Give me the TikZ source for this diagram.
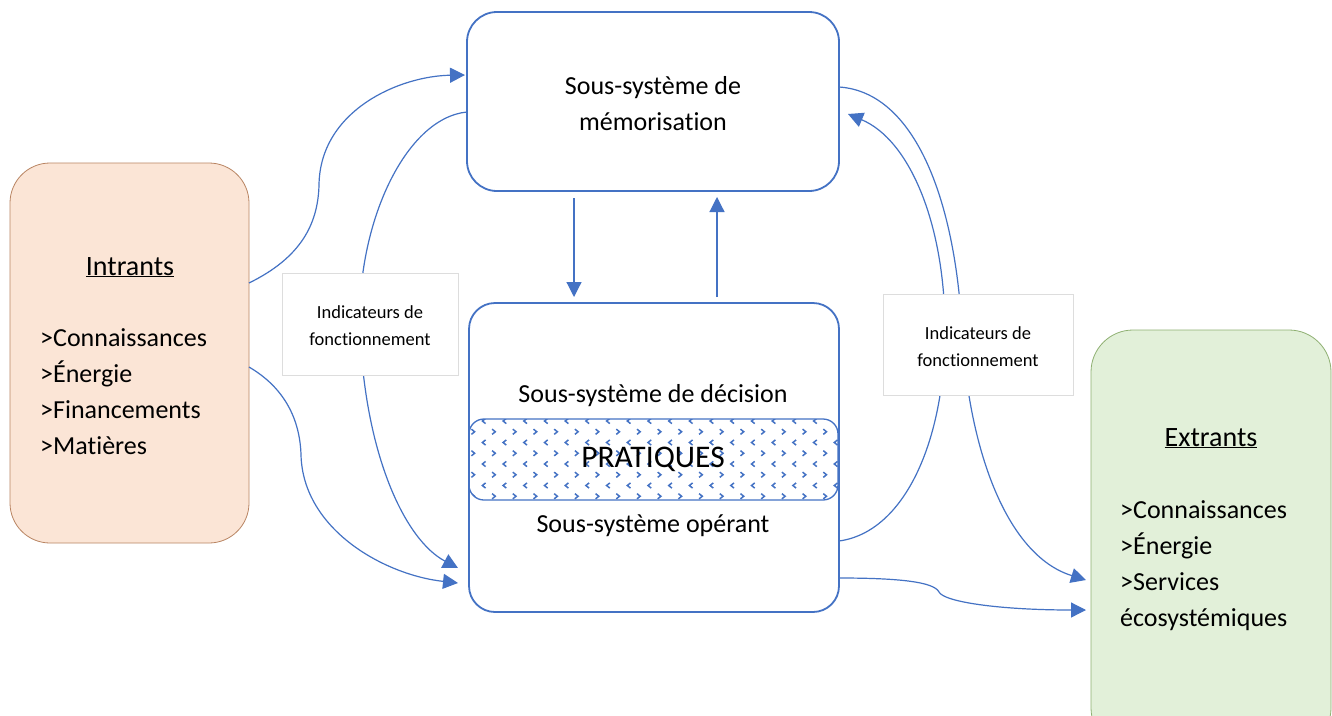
\documentclass[tikz,border=0pt]{standalone}
\usepackage{fontspec}
\setmainfont{Carlito}[Ligatures=NoCommon]
\usetikzlibrary{arrows.meta}
\definecolor{ublue}{HTML}{4472C4}
\definecolor{peach}{HTML}{FBE5D6}
\definecolor{peachline}{HTML}{B98563}
\definecolor{lgreen}{HTML}{E2F0D9}
\definecolor{greenline}{HTML}{8FB072}
\definecolor{lgray}{HTML}{DDDDDD}
\begin{document}
\begin{tikzpicture}[x=1pt,y=-1pt,
  sysbox/.style={draw=ublue, line width=1.8pt, rounded corners=30pt, fill=white, inner sep=0pt, outer sep=0pt},
  conn/.style={draw=ublue, line width=1.2pt},
  arr/.style={conn, -{Triangle[length=15pt,width=15pt]}},
  indbox/.style={draw=lgray, line width=0.7pt, fill=white, inner sep=0pt, outer sep=0pt},
  bodytxt/.style={font=\fontsize{26}{36}\selectfont, inner sep=0pt},
  titletxt/.style={font=\fontsize{28}{34}\selectfont, inner sep=0pt},
  indtxt/.style={font=\fontsize{18.5}{27}\selectfont, align=center, inner sep=0pt},
  chev/.style={draw=ublue, line width=1.5pt}
]
\clip (0,0) rectangle (1332,715);
\fill[white] (0,0) rectangle (1332,715);

% side boxes
\node[draw=peachline, fill=peach, line width=0.8pt, rounded corners=40pt, minimum width=239pt, minimum height=380pt, inner sep=0pt, outer sep=0pt] (intr) at (129.5,353) {};
\node[draw=greenline, fill=lgreen, line width=0.8pt, rounded corners=42pt, minimum width=240pt, minimum height=420pt, inner sep=0pt, outer sep=0pt] (extr) at (1211,540) {};

% central boxes
\node[sysbox, minimum width=372pt, minimum height=179pt] (mem) at (653,101.5) {};
\node[sysbox, rounded corners=26pt, minimum width=370pt, minimum height=309pt] (op) at (654,457.5) {};

% connectors
\draw[arr] ([yshift=70pt]intr.east) .. controls (300,258) and (318,225) .. (319,185)
   .. controls (320,110) and (400,76) .. ([xshift=-2pt,yshift=26.5pt]mem.west);
\draw[arr] ([yshift=-10.5pt]mem.west) .. controls (405,118) and (356,225) .. (360,330)
   .. controls (365,455) and (405,540) .. ([xshift=-11pt,yshift=-110.5pt]op.west);
\draw[arr] ([yshift=-14pt]intr.east) .. controls (285,388) and (300,420) .. (301,455)
   .. controls (303,530) and (385,575) .. ([xshift=-11pt,yshift=-125.5pt]op.west);
\draw[arr] ([yshift=14.5pt]mem.east) .. controls (915,92) and (955,200) .. (962,330)
   .. controls (968,445) and (1005,555) .. ([xshift=-5pt,yshift=-40pt]extr.west);
\draw[arr] ([yshift=-83.5pt]op.east) .. controls (905,532) and (945,440) .. (945,330)
   .. controls (945,225) and (910,140) .. ([xshift=9pt,yshift=-12.5pt]mem.east);
\draw[arr] ([yshift=-120.5pt]op.east) .. controls (900,578) and (934,582) .. (939,592)
   .. controls (944,602) and (1000,610) .. ([xshift=-5pt,yshift=-70pt]extr.west);
\draw[arr] ([xshift=-79pt,yshift=-7pt]mem.south) -- ([xshift=-80pt,yshift=6pt]op.north);
\draw[arr] ([xshift=63pt,yshift=6pt]op.north) -- ([xshift=64pt,yshift=-6pt]mem.south);

% indicator boxes
\node[indbox, minimum width=176pt, minimum height=102pt] (indl) at (370,324) {};
\node[indtxt] (indltxt) at (370,326) {Indicateurs de\\fonctionnement};
\node[indbox, minimum width=190pt, minimum height=101pt] (indr) at (978,345) {};
\node[indtxt] (indrtxt) at (978,347) {Indicateurs de\\fonctionnement};

% PRATIQUES band
\begin{scope}
  \clip[rounded corners=15pt] (469,419) rectangle (838,500);
  \foreach \r in {0,...,7}{
    \foreach \c in {0,...,18}{
      \ifodd\r
        \draw[chev] ({473+20.7*\c},{421+10.75*\r}) ++(-1.6,-2.6) -- ++(3.2,2.6) -- ++(-3.2,2.6);
      \else
        \draw[chev] ({484+20.7*\c},{421+10.75*\r}) ++(1.6,-2.6) -- ++(-3.2,2.6) -- ++(3.2,2.6);
      \fi
    }
  }
\end{scope}
\node[draw=ublue, line width=1.3pt, rounded corners=15pt, minimum width=369pt, minimum height=81pt, inner sep=0pt, outer sep=0pt] (prat) at (653.5,459.5) {};
\node[font=\fontsize{31.5}{36}\selectfont, inner sep=0pt, anchor=base] (prattxt) at (653,467) {PRATIQUES};

% texts in central boxes
\node[bodytxt, anchor=base] (mem1) at (653,94) {Sous-système de};
\node[bodytxt, anchor=base] (mem2) at (653,130) {mémorisation};
\node[bodytxt, anchor=base] (dec) at (653,402) {Sous-système de décision};
\node[bodytxt, anchor=base] (opr) at (653,532) {Sous-système opérant};

% Intrants
\node[titletxt, anchor=base] (intrt) at (130,275) {\underline{Intrants}};
\node[bodytxt, anchor=base west] (i1) at (40,346) {>Connaissances};
\node[bodytxt, anchor=base west] (i2) at (40,382) {>Énergie};
\node[bodytxt, anchor=base west] (i3) at (40,418) {>Financements};
\node[bodytxt, anchor=base west] (i4) at (40,454) {>Matières};

% Extrants
\node[titletxt, anchor=base] (extrt) at (1211,446) {\underline{Extrants}};
\node[bodytxt, anchor=base west] (e1) at (1120,518) {>Connaissances};
\node[bodytxt, anchor=base west] (e2) at (1120,554) {>Énergie};
\node[bodytxt, anchor=base west] (e3) at (1120,590) {>Services};
\node[bodytxt, anchor=base west] (e4) at (1120,626) {écosystémiques};
\end{tikzpicture}
\end{document}
